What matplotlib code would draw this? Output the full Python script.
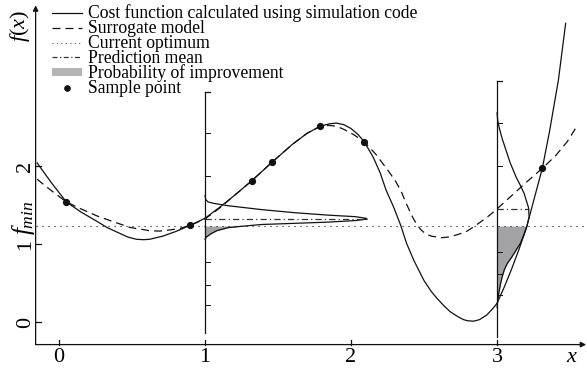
import matplotlib
matplotlib.use('Agg')
import numpy as np
import matplotlib.pyplot as plt
from matplotlib.lines import Line2D
from matplotlib.patches import Patch

plt.rcParams['font.family'] = 'Liberation Serif'
plt.rcParams['mathtext.fontset'] = 'custom'
plt.rcParams['mathtext.rm'] = 'Liberation Serif'
plt.rcParams['mathtext.it'] = 'Liberation Serif:italic'

# cost function (solid curve)
cost_x = [-0.15, -0.05, 0.05, 0.15, 0.26, 0.33, 0.40, 0.47, 0.53, 0.58, 0.62,
          0.71, 0.80, 0.90, 1.00, 1.10, 1.20, 1.32, 1.46, 1.60, 1.70, 1.79,
          1.85, 1.90, 1.95, 2.00, 2.05, 2.09, 2.15, 2.20, 2.24, 2.29, 2.34,
          2.38, 2.43, 2.50, 2.55, 2.59, 2.64, 2.68, 2.73, 2.77, 2.80, 2.84,
          2.88, 2.93, 2.97, 3.00, 3.05, 3.10, 3.15, 3.20, 3.25, 3.31, 3.36,
          3.42, 3.47]
cost_y = [2.04, 1.78, 1.54, 1.41, 1.29, 1.21, 1.15, 1.09, 1.06, 1.055, 1.06,
          1.10, 1.16, 1.24, 1.33, 1.47, 1.62, 1.81, 2.05, 2.28, 2.42, 2.51,
          2.54, 2.55, 2.53, 2.48, 2.40, 2.31, 2.12, 1.91, 1.69, 1.48, 1.24,
          1.01, 0.79, 0.53, 0.39, 0.30, 0.20, 0.13, 0.07, 0.03, 0.015, 0.01,
          0.03, 0.09, 0.17, 0.24, 0.45, 0.68, 0.93, 1.20, 1.55, 1.97, 2.45,
          3.10, 3.83]

# surrogate model (dashed curve)
surr_x = [-0.15, -0.05, 0.05, 0.15, 0.26, 0.38, 0.49, 0.56, 0.62, 0.69, 0.76,
          0.83, 0.90, 1.00, 1.10, 1.20, 1.32, 1.46, 1.60, 1.70, 1.79, 1.85,
          1.90, 1.95, 2.02, 2.09, 2.17, 2.25, 2.30, 2.34, 2.38, 2.42, 2.45,
          2.48, 2.51, 2.55, 2.62, 2.67, 2.73, 2.79, 2.84, 2.90, 2.95, 3.00,
          3.10, 3.20, 3.31, 3.40, 3.48, 3.55]
surr_y = [1.83, 1.68, 1.54, 1.45, 1.36, 1.28, 1.21, 1.19, 1.17, 1.165, 1.18,
          1.20, 1.24, 1.32, 1.46, 1.62, 1.81, 2.05, 2.28, 2.42, 2.51, 2.52,
          2.51, 2.47, 2.40, 2.31, 2.15, 1.95, 1.82, 1.69, 1.51, 1.35, 1.25,
          1.18, 1.13, 1.10, 1.08, 1.09, 1.12, 1.16, 1.22, 1.30, 1.37, 1.45,
          1.62, 1.79, 1.97, 2.13, 2.31, 2.52]

sample_x = [0.05, 0.90, 1.32, 1.46, 1.79, 2.09, 3.31]
sample_y = [1.54, 1.24, 1.81, 2.05, 2.51, 2.31, 1.97]

f_min = 1.23

# predictive distributions drawn sideways at x = 1 and x = 3
pred_at = [1, 3]
pred_mean = [1.32, 1.45]
pred_top = [2.95, 3.09]
pred_bottom = [-0.14, -0.19]
pred_ticks = [1.1, 0.55, -0.55, -0.84, -1.1]

pdf1_y = [1.62, 1.57, 1.54, 1.52, 1.49, 1.44, 1.40, 1.37, 1.35, 1.33, 1.32,
          1.30, 1.28, 1.265, 1.25, 1.23, 1.21, 1.17, 1.13, 1.09, 1.06]
pdf1_w = [0.00, 0.005, 0.02, 0.06, 0.16, 0.39, 0.62, 0.84, 1.03, 1.10, 1.11,
          1.03, 0.84, 0.62, 0.39, 0.27, 0.16, 0.08, 0.04, 0.01, 0.00]

pdf3_y = [2.68, 2.58, 2.49, 2.35, 2.21, 2.04, 1.86, 1.75, 1.65, 1.56, 1.47,
          1.35, 1.23, 1.18, 1.10, 1.01, 0.92, 0.83, 0.75, 0.67, 0.58, 0.50,
          0.40, 0.32, 0.25, 0.19]
pdf3_w = [0.00, 0.005, 0.015, 0.035, 0.06, 0.09, 0.13, 0.16, 0.185, 0.20, 0.215,
          0.22, 0.205, 0.195, 0.18, 0.16, 0.13, 0.10, 0.07, 0.05, 0.035, 0.025,
          0.015, 0.008, 0.003, 0.00]

ink = '#111111'
grey = '#a3a3a5'
lw = 0.9

fig = plt.figure(figsize=(5.87, 3.69), dpi=100)
ax = fig.add_axes([0, 0, 1, 1])
ax.set_xlim(-0.404, 3.616)
ax.set_ylim(-0.603, 4.128)
ax.axis('off')

# axes with arrows
x0, y0 = -0.16, -0.29
ax.annotate('', xy=(x0, 4.06), xytext=(x0, y0),
            arrowprops=dict(arrowstyle='-|>', color=ink, lw=lw, mutation_scale=8,
                            shrinkA=0, shrinkB=0))
ax.annotate('', xy=(3.61, y0), xytext=(x0, y0),
            arrowprops=dict(arrowstyle='-|>', color=ink, lw=lw, mutation_scale=8,
                            shrinkA=0, shrinkB=0))
for t in [0, 1, 2]:
    ax.plot([x0, x0 + 0.035], [t, t], color=ink, lw=lw)
    ax.text(-0.23, t, str(t), rotation=90, ha='center', va='center', fontsize=16)
for t in [0, 1, 2, 3]:
    ax.plot([t, t], [y0, y0 + 0.06], color=ink, lw=lw)
    ax.text(t, -0.46, str(t), ha='center', va='center', fontsize=16)

ax.text(-0.27, 3.79, r'$f(x)$', rotation=90, ha='center', va='center', fontsize=16)
ax.text(-0.245, 1.33, r'$f_{min}$', rotation=90, ha='center', va='center', fontsize=18)
ax.text(3.51, -0.45, r'$x$', ha='center', va='center', fontsize=16)

# current optimum
ax.plot([x0, 3.6], [f_min, f_min], color=ink, lw=0.8, linestyle=(0, (1, 4.4)))

# predictive distributions
pdfs = [(pdf1_y, pdf1_w), (pdf3_y, pdf3_w)]
for xp, mu, top, bot, (py, pw) in zip(pred_at, pred_mean, pred_top, pred_bottom, pdfs):
    py = np.array(py)
    px = xp + np.array(pw)
    ax.plot([xp, xp], [bot, top], color=ink, lw=lw)
    ax.plot([xp, xp + 0.035], [top, top], color=ink, lw=lw)
    for d in pred_ticks:
        ax.plot([xp, xp + 0.035], [mu + d, mu + d], color=ink, lw=0.7)
    below = py <= f_min
    ax.fill_betweenx(py[below], xp, px[below], color=grey, lw=0)
    ax.plot(px, py, color=ink, lw=lw)
    ax.plot([xp, max(pw) + xp], [mu, mu], color='#333333', lw=lw,
            linestyle=(0, (5, 2.5, 1, 2.5)))

ax.plot(cost_x, cost_y, color=ink, lw=lw)
ax.plot(surr_x, surr_y, color=ink, lw=lw, linestyle=(0, (6.4, 4)))
ax.plot(sample_x, sample_y, 'o', color=ink, ms=4.2, zorder=5)

handles = [
    Line2D([], [], color=ink, lw=lw),
    Line2D([], [], color=ink, lw=lw, linestyle=(0, (6.4, 4))),
    Line2D([], [], color='#555555', lw=0.8, linestyle=(0, (1, 3))),
    Line2D([], [], color='#333333', lw=lw, linestyle=(0, (4, 2, 1, 2))),
    Patch(facecolor='#b4b4b6', edgecolor='none'),
    Line2D([], [], color=ink, marker='o', ms=3.8, lw=0),
]
labels = ['Cost function calculated using simulation code', 'Surrogate model',
          'Current optimum', 'Prediction mean', 'Probability of improvement',
          'Sample point']
fig.legend(handles, labels, loc='upper left', bbox_to_anchor=(52 / 587, 1 - 4 / 369),
           frameon=False, fontsize=12.7, borderpad=0, labelspacing=-0.12,
           handlelength=1.7, handletextpad=0.33, handleheight=0.3, borderaxespad=0)

fig.savefig('out.png', dpi=100)
